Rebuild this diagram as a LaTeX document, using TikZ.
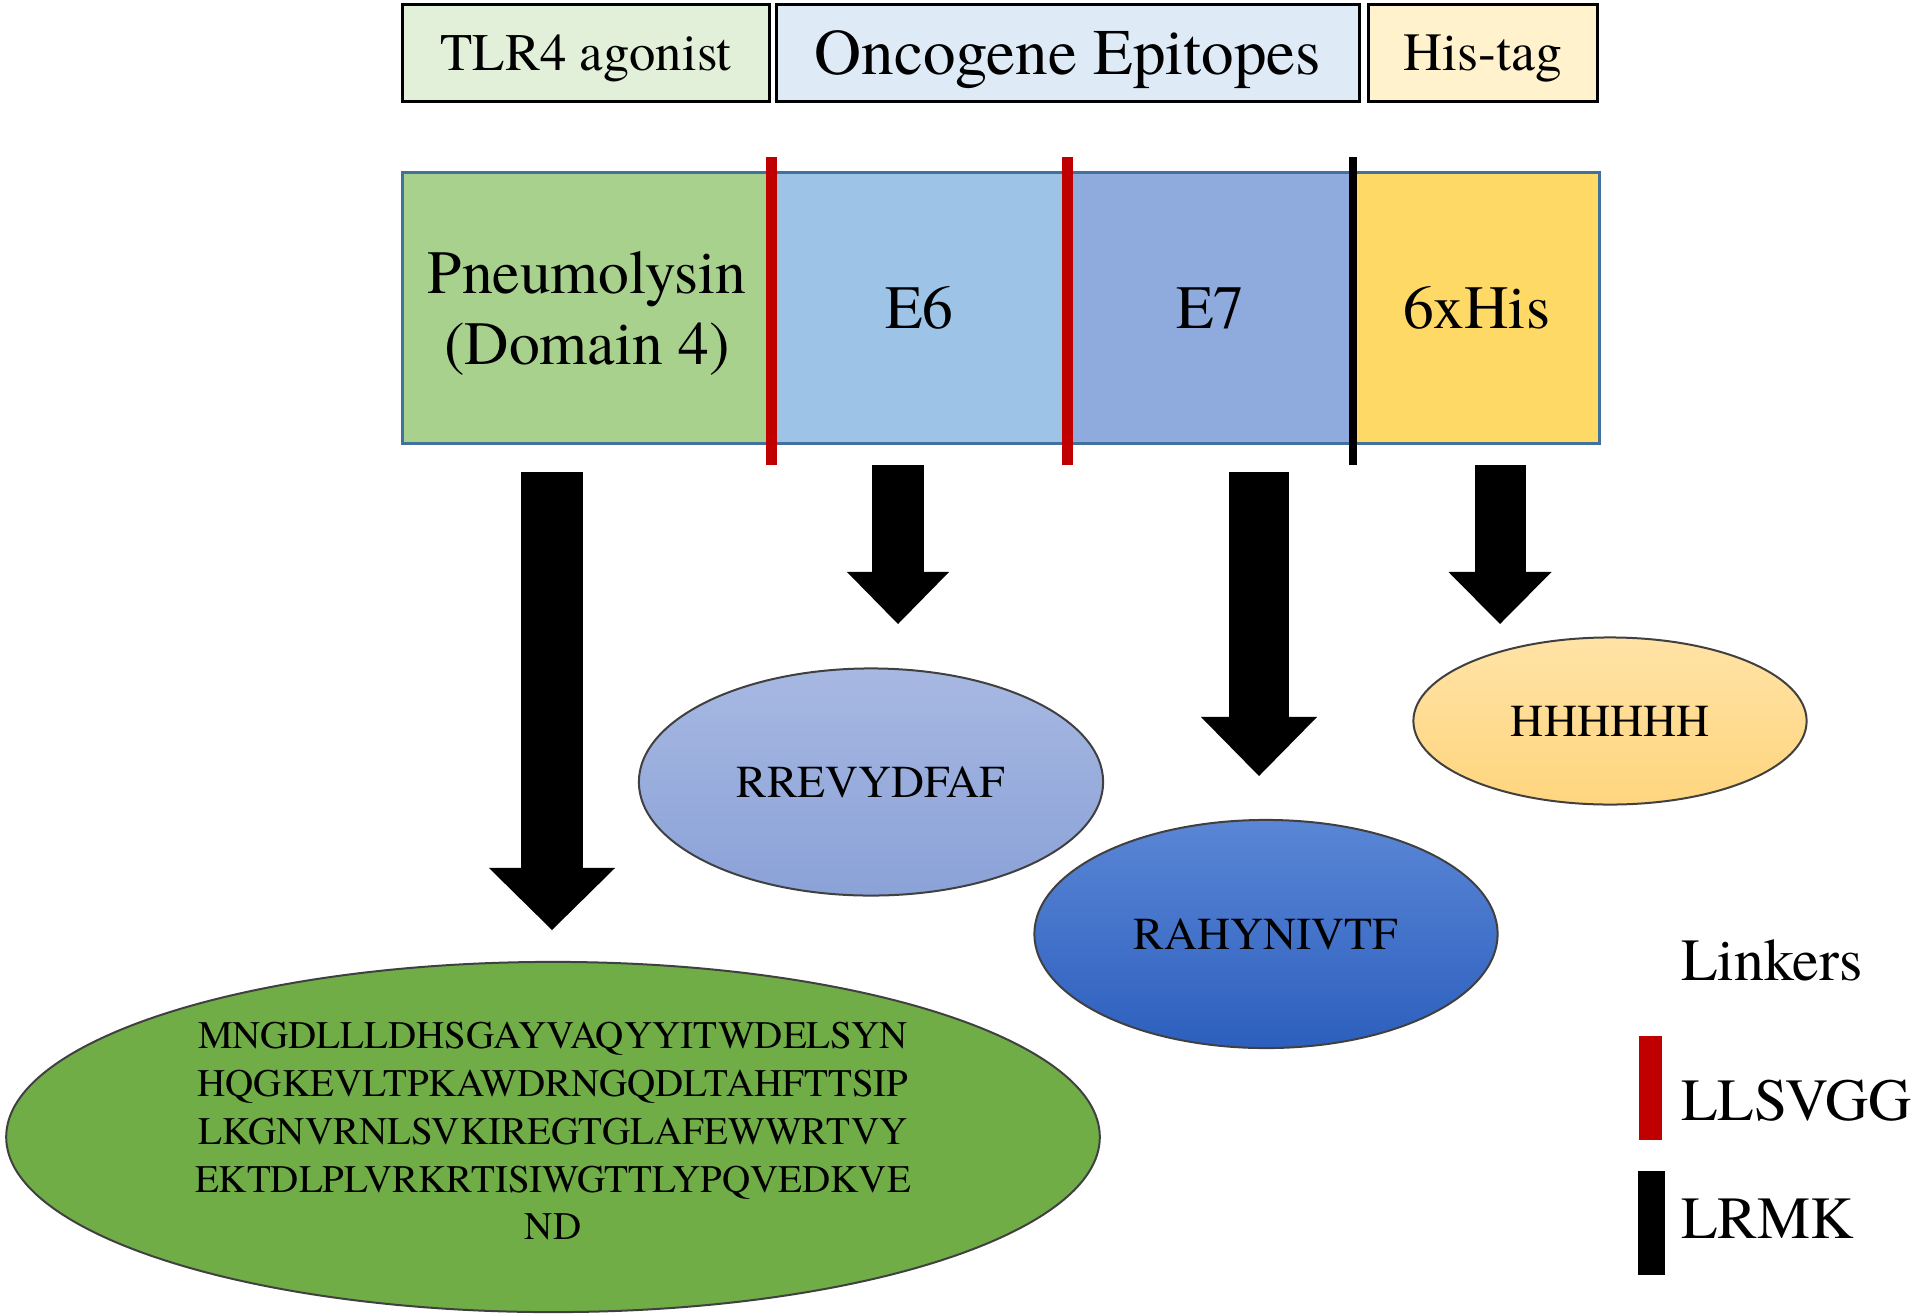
\documentclass[tikz,border=0pt]{standalone}
\usepackage{fontspec}
\setmainfont{TeX Gyre Termes}
\usetikzlibrary{positioning,shapes.geometric,arrows.meta}

\definecolor{pneugreen}{HTML}{A9D18E}
\definecolor{esixblue}{HTML}{9DC3E6}
\definecolor{esevenblue}{HTML}{8FAADC}
\definecolor{hisyellow}{HTML}{FFD966}
\definecolor{barborder}{HTML}{41719C}
\definecolor{linkred}{HTML}{C00000}
\definecolor{tlrbg}{HTML}{E2F0D9}
\definecolor{oncbg}{HTML}{DEEBF7}
\definecolor{hisbg}{HTML}{FFF2CC}
\definecolor{seqgreen}{HTML}{70AD47}
\definecolor{sixtop}{HTML}{A7B8E2}
\definecolor{sixbot}{HTML}{8BA2D8}
\definecolor{seventop}{HTML}{5A86D5}
\definecolor{sevenbot}{HTML}{2C5FBE}
\definecolor{histop}{HTML}{FFE3A6}
\definecolor{hisbot}{HTML}{FFD57E}

\begin{document}
\begin{tikzpicture}[x=0.01cm, y=-0.01cm,
		every node/.style={outer sep=0pt},
		header/.style={draw, line width=0.03cm, minimum height=0.96cm, inner sep=0pt, text depth=0pt},
		segment/.style={draw=barborder, line width=0.03cm, minimum height=2.71cm, inner sep=0pt,
			font=\fontsize{17.5}{20}\selectfont, align=center},
		peptide/.style={ellipse, draw=black!75, line width=0.02cm, inner sep=0pt,
			font=\fontsize{13}{15}\selectfont},
		legendtext/.style={anchor=west, inner sep=0pt, font=\fontsize{17}{20}\selectfont},
		fatarrow/.style n args={3}{line width=#1,
			-{Triangle[width=#2, length=#3, line width=0pt 0 0]}}]
		\useasboundingbox (0,0) rectangle (1918,1315);
		
		% labels over the construct
		\node[header, fill=tlrbg, minimum width=3.66cm, font=\fontsize{15}{18}\selectfont]   (tlr)    at (586,53)  {TLR4 agonist};
		\node[header, fill=oncbg, minimum width=5.83cm, font=\fontsize{18.5}{22}\selectfont] (onc)    at (1068,53) {Oncogene Epitopes};
		\node[header, fill=hisbg, minimum width=2.29cm, font=\fontsize{15.3}{18}\selectfont] (histag) at (1483,53) {His-tag};
		
		% the construct
		\node[segment, fill=pneugreen,  minimum width=3.68cm, text depth=0pt] (pneu) at (587,308) {Pneumolysin\\(Domain 4)};
		\node[segment, fill=esixblue,   minimum width=2.96cm, right=0pt of pneu] (e6)  {E6};
		\node[segment, fill=esevenblue, minimum width=2.86cm, right=0pt of e6]   (e7)  {E7};
		\node[segment, fill=hisyellow,  minimum width=2.46cm, right=0pt of e7]   (his) {6xHis};
		
		% linkers
		\draw[line width=0.11cm, linkred] ([yshift=0.15cm]pneu.north east) -- ([yshift=-0.21cm]pneu.south east);
		\draw[line width=0.11cm, linkred] ([yshift=0.15cm]e6.north east)   -- ([yshift=-0.21cm]e6.south east);
		\draw[line width=0.08cm, black]   ([yshift=0.15cm]e7.north east)   -- ([yshift=-0.21cm]e7.south east);
		
		% sequences
		\node[peptide, minimum width=4.64cm, minimum height=2.27cm,
			top color=sixtop, bottom color=sixbot] (pep6) at (871,782) {RREVYDFAF};
		\node[peptide, minimum width=4.63cm, minimum height=2.28cm,
			top color=seventop, bottom color=sevenbot] (pep7) at (1266,934) {RAHYNIVTF};
		\node[peptide, minimum width=3.93cm, minimum height=1.67cm,
			top color=histop, bottom color=hisbot] (pephis) at (1610,721) {HHHHHH};
		\node[peptide, fill=seqgreen, minimum width=10.93cm, minimum height=3.5cm, align=center,
			text depth=0.12cm, font=\fontsize{11.1}{13.6}\selectfont] (seq) at (553,1137)
			{MNGDLLLDHSGAYVAQYYITWDELSYN\\HQGKEVLTPKAWDRNGQDLTAHFTTSIP\\LKGNVRNLSVKIREGTGLAFEWWRTVY\\EKTDLPLVRKRTISIWGTTLYPQVEDKVE\\ND};
		
		% arrows down to the sequences
		\coordinate (a1) at (552,472);  \coordinate (a1tip) at (552,930);
		\coordinate (a2) at (898,465);  \coordinate (a2tip) at (898,624);
		\coordinate (a3) at (1259,472); \coordinate (a3tip) at (1259,776);
		\coordinate (a4) at (1500,465); \coordinate (a4tip) at (1500,624);
		\draw[fatarrow={0.62cm}{1.26cm}{0.62cm}] (a1) -- (a1tip);
		\draw[fatarrow={0.52cm}{1.02cm}{0.52cm}] (a2) -- (a2tip);
		\draw[fatarrow={0.59cm}{1.16cm}{0.59cm}] (a3) -- (a3tip);
		\draw[fatarrow={0.51cm}{1.03cm}{0.52cm}] (a4) -- (a4tip);
		
		% legend
		\node[legendtext] (linkers) at (1681,960) {Linkers};
		\node[fill=linkred, minimum width=0.23cm, minimum height=1.03cm, inner sep=0pt] (redkey)   at (1650,1088) {};
		\node[fill=black,   minimum width=0.27cm, minimum height=1.03cm, inner sep=0pt] (blackkey) at (1651,1223) {};
		\node[legendtext] (llsvgg) at (1681,1101) {LLSVGG};
		\node[legendtext] (lrmk)   at (1681,1219) {LRMK};
\end{tikzpicture}
\end{document}
